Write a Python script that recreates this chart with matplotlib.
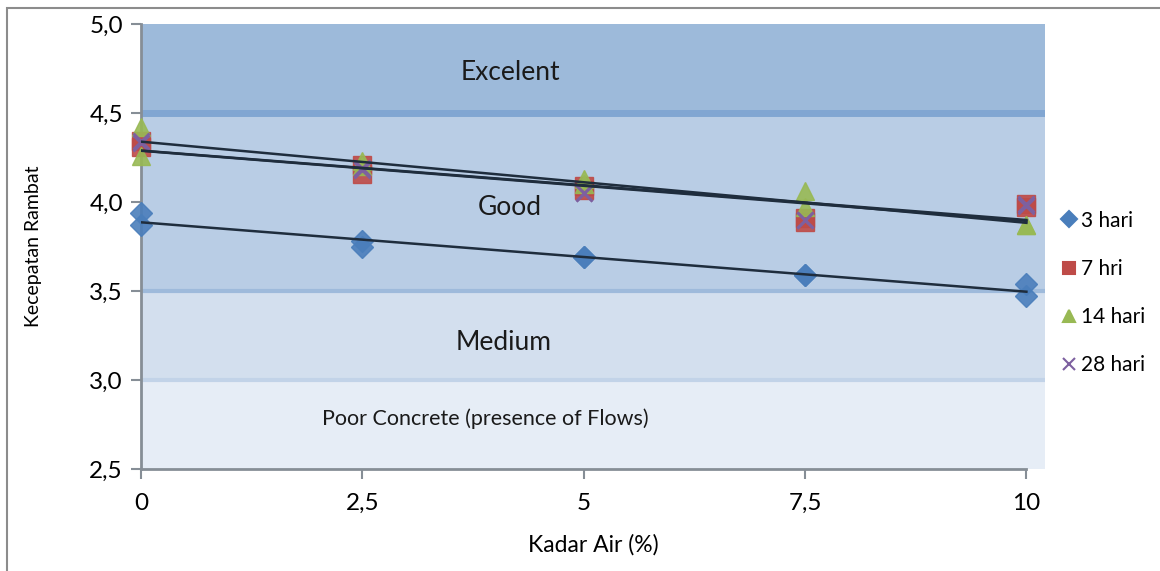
import numpy as np
import matplotlib
matplotlib.use("Agg")
import matplotlib.pyplot as plt
from matplotlib.ticker import FuncFormatter
from matplotlib.lines import Line2D

plt.rcParams['font.family'] = ['Lato', 'DejaVu Sans']

kadar_air = [0, 2.5, 5, 7.5, 10]
x_ticks = [0, 2.5, 5, 7.5, 10]
x_tick_labels = ["0", "2,5", "5", "7,5", "10"]
y_ticks = [2.5, 3.0, 3.5, 4.0, 4.5, 5.0]

# two specimens per curing age
v3_a = [3.94, 3.78, 3.69, 3.59, 3.54]
v3_b = [3.87, 3.75, 3.69, 3.59, 3.47]
v7_a = [4.34, 4.21, 4.09, 3.91, 3.99]
v7_b = [4.31, 4.16, 4.07, 3.89, 3.97]
v14_a = [4.42, 4.23, 4.13, 4.06, 3.87]
v14_b = [4.26, 4.20, 4.10, 3.97, 3.87]
v28_a = [4.34, 4.19, 4.05, 3.90, 3.99]
v28_b = [4.33, 4.18, 4.05, 3.90, 3.98]

labels = ["3 hari", "7 hri", "14 hari", "28 hari"]
colors = ["#4a7ebb", "#be4b48", "#98b954", "#7d60a0"]
markers = ["D", "s", "^", "x"]
sizes = [11, 13, 13, 11]

zones = [(2.5, 3.0, "#e6edf6"), (3.0, 3.5, "#d3dfee"), (3.5, 4.5, "#b9cde5"), (4.5, 5.0, "#9dbada")]
zone_lines = [(3.0, "#c2d3e8", 3), (3.5, "#9ebadb", 3), (4.5, "#81a6d2", 5)]
zone_text = [("Excelent", 4.17, 4.73, 19), ("Good", 4.17, 3.97, 19), ("Medium", 4.09, 3.21, 19),
             ("Poor Concrete (presence of Flows)", 3.89, 2.78, 15.5)]

fig = plt.figure(figsize=(11.6, 5.71), dpi=100)
ax = fig.add_axes([141/1160, 1-469/571, (1045-141)/1160, (469-24)/571])

for lo, hi, c in zones:
    ax.axhspan(lo, hi, color=c, zorder=0, lw=0)
for y, c, w in zone_lines:
    ax.axhline(y, color=c, lw=w, zorder=0.5)
for t, x, y, fs in zone_text:
    ax.text(x, y, t, ha="center", va="center", fontsize=fs, color="#1a1a1a", zorder=1)

series = [(v3_a, v3_b), (v7_a, v7_b), (v14_a, v14_b), (v28_a, v28_b)]
xs = np.array(kadar_air, dtype=float)
for (a, b), c, m, s in zip(series, colors, markers, sizes):
    for v in (a, b):
        if m == "x":
            ax.plot(xs, v, ls="none", marker=m, ms=s, mec=c, mew=2, zorder=3, clip_on=False)
        else:
            ax.plot(xs, v, ls="none", marker=m, ms=s, mfc=c, mec=c, alpha=0.9, zorder=3, clip_on=False)
    allx = np.concatenate([xs, xs])
    ally = np.concatenate([a, b])
    k, d = np.polyfit(allx, ally, 1)
    ax.plot([0, 10], [d, d + 10*k], color="#1f2d3d", lw=1.8, zorder=4)

ax.set_xlim(0, 10.21)
ax.set_ylim(2.5, 5.0)
ax.set_xticks(x_ticks)
ax.set_xticklabels(x_tick_labels)
ax.set_yticks(y_ticks)
ax.yaxis.set_major_formatter(FuncFormatter(lambda v, p: f"{v:.1f}".replace(".", ",")))
for s in ["top", "right"]:
    ax.spines[s].set_visible(False)
for s in ["left", "bottom"]:
    ax.spines[s].set_color("#868e96")
    ax.spines[s].set_linewidth(2)
ax.spines["bottom"].set_bounds(0, 10)
ax.tick_params(axis="both", colors="#868e96", length=7, width=1.5, labelsize=17.5, labelcolor="black")
ax.tick_params(axis="x", pad=10)
ax.tick_params(axis="y", pad=6)
ax.set_xlabel("Kadar Air (%)", fontsize=16.5, labelpad=15)
ax.set_ylabel("Kecepatan Rambat", fontsize=14, labelpad=34)

handles = [Line2D([], [], ls="none", marker=m, ms=8, color=c, mfc=c, mec=c, mew=1.5)
           for m, c in zip(markers, colors)]
fig.legend(handles, labels, loc="upper left", bbox_to_anchor=(1040/1160, 1-192/571), frameon=False,
           fontsize=15, handletextpad=0.05, labelspacing=1.35, handlelength=1.0)

border = plt.Rectangle((7/1160, -0.01), 1.02, 1 - 8/571 + 0.01, transform=fig.transFigure,
                       fill=False, edgecolor="#8c8c8c", lw=1.5)
fig.patches.append(border)

fig.savefig("out.png", dpi=100)
